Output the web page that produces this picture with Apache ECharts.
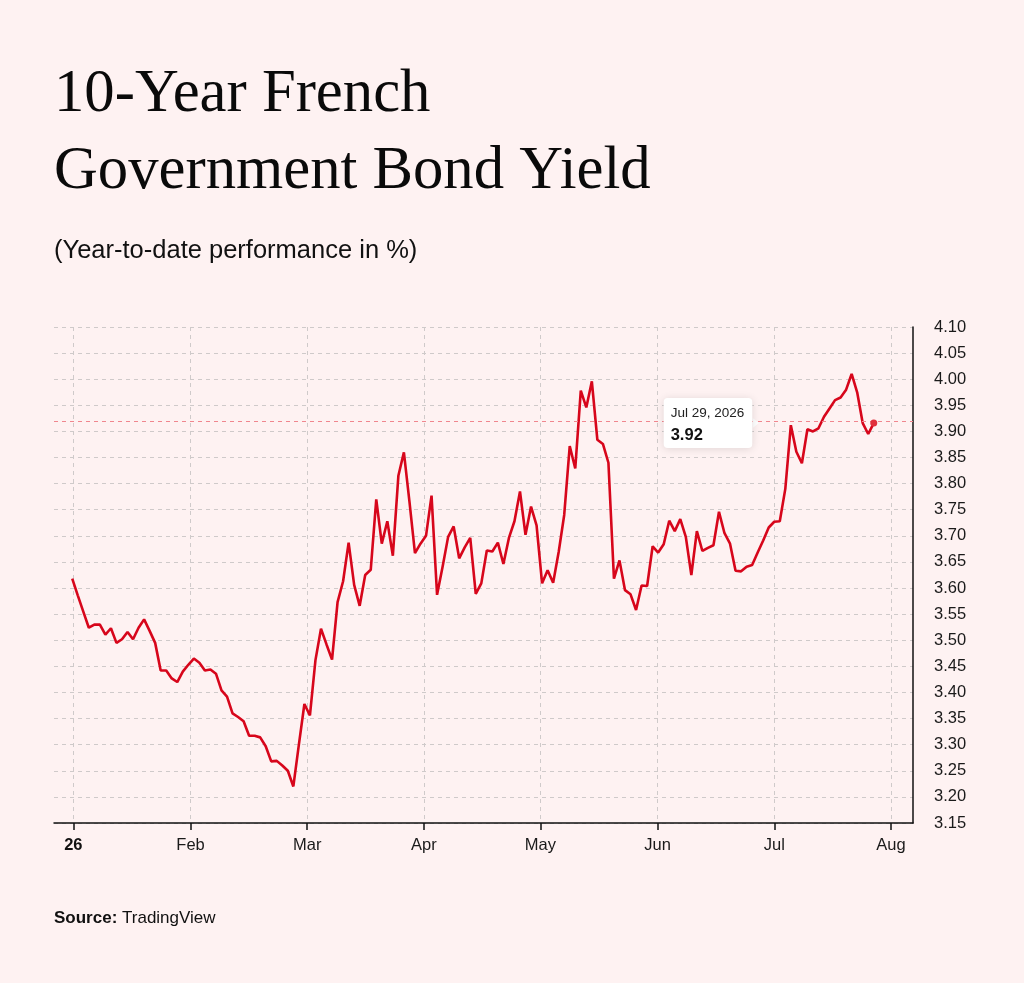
<!DOCTYPE html>
<html>
<head>
<meta charset="utf-8">
<title>10-Year French Government Bond Yield</title>
<style>
  html, body { margin: 0; padding: 0; background: #fef2f2; }
  #chart { width: 1024px; height: 983px; }
</style>
<script src="https://cdn.jsdelivr.net/npm/echarts@6/dist/echarts.min.js"></script>
</head>
<body>
<div id="chart"></div>
<script>
// daily closes (trading days), Jan 2 -> Jul 29 2026
var yields = [
  3.618, 3.586, 3.555, 3.524, 3.530, 3.530, 3.511, 3.523, 3.495, 3.502,
  3.516, 3.502, 3.524, 3.540, 3.518, 3.495, 3.442, 3.442, 3.427, 3.420,
  3.440, 3.453, 3.465, 3.457, 3.442, 3.444, 3.436, 3.404, 3.392, 3.360,
  3.353, 3.345, 3.317, 3.317, 3.314, 3.297, 3.268, 3.269, 3.260, 3.250,
  3.220, 3.300, 3.378, 3.356, 3.462, 3.522, 3.492, 3.463, 3.573, 3.613,
  3.687, 3.606, 3.566, 3.625, 3.635, 3.770, 3.685, 3.728, 3.662, 3.815,
  3.860, 3.766, 3.667, 3.685, 3.700, 3.777, 3.587, 3.641, 3.698, 3.718,
  3.657, 3.678, 3.696, 3.589, 3.609, 3.672, 3.670, 3.687, 3.646, 3.696,
  3.728, 3.785, 3.702, 3.756, 3.720, 3.609, 3.634, 3.610, 3.669, 3.740,
  3.872, 3.829, 3.978, 3.946, 3.996, 3.884, 3.876, 3.840, 3.618, 3.653,
  3.596, 3.588, 3.558, 3.605, 3.604, 3.680, 3.668, 3.684, 3.729, 3.709,
  3.732, 3.698, 3.625, 3.709, 3.671, 3.677, 3.682, 3.746, 3.705, 3.685,
  3.633, 3.632, 3.641, 3.644, 3.668, 3.691, 3.716, 3.727, 3.728, 3.790,
  3.912, 3.861, 3.839, 3.904, 3.900, 3.906, 3.928, 3.944, 3.960, 3.965,
  3.980, 4.010, 3.975, 3.916, 3.895, 3.916
];

// month labels and where they sit on the trading-day index
var monthNames = ['26', 'Feb', 'Mar', 'Apr', 'May', 'Jun', 'Jul', 'Aug'];
var monthTicks = [0.2, 21.4, 42.5, 63.6, 84.7, 105.9, 127, 148.1];

var yMin = 3.15, yMax = 4.10, yStep = 0.05;
var lastDate = 'Jul 29, 2026';

var sans = 'Liberation Sans, Arial, Helvetica, sans-serif';
var red = '#d7061b';

var points = yields.map(function (v, i) { return [i, v]; });
var lastIdx = yields.length - 1;
var lastVal = yields[lastIdx];

var chart = echarts.init(document.getElementById('chart'));

var option = {
  backgroundColor: '#fef2f2',
  animation: false,
  title: [
    {
      text: '10-Year French\nGovernment Bond Yield',
      left: 54, top: 57, padding: 0,
      textStyle: { fontFamily: 'Liberation Serif, Times New Roman, serif', fontSize: 60.7,
        fontWeight: 'normal', lineHeight: 77, color: '#0a0a0a' }
    },
    {
      text: '(Year-to-date performance in %)',
      left: 54, top: 236, padding: 0,
      textStyle: { fontFamily: sans, fontSize: 25.5, fontWeight: 'normal', lineHeight: 29, color: '#111' }
    },
    {
      text: '{b|Source:} TradingView',
      left: 54, top: 910, padding: 0,
      textStyle: { fontFamily: sans, fontSize: 17, fontWeight: 'normal', color: '#111',
        rich: { b: { fontFamily: sans, fontSize: 17, fontWeight: 'bold', color: '#111' } } }
    }
  ],
  grid: { left: 54, right: 111, top: 327, bottom: 160 },
  xAxis: {
    type: 'value',
    min: -3.3,
    max: 152.1,
    axisLine: { onZero: false, lineStyle: { color: '#111', width: 1.5 } },
    axisTick: { show: true, length: 7, customValues: monthTicks, lineStyle: { color: '#111', width: 1.5 } },
    axisLabel: {
      customValues: monthTicks,
      margin: 14,
      fontFamily: sans, fontSize: 16.5, color: '#1a1a1a',
      formatter: function (v) {
        var k = monthTicks.indexOf(v);
        var name = monthNames[k] || '';
        return k === 0 ? '{b|' + name + '}' : name;
      },
      rich: { b: { fontFamily: sans, fontSize: 16.5, fontWeight: 'bold', color: '#111' } }
    },
    splitLine: { show: true, lineStyle: { color: '#cfcaca', type: [4, 4], width: 1 } }
  },
  yAxis: {
    type: 'value',
    position: 'right',
    min: yMin,
    max: yMax,
    interval: yStep,
    axisLine: { show: true, onZero: false, lineStyle: { color: '#111', width: 1.5 } },
    axisTick: { show: false },
    axisLabel: {
      margin: 21,
      fontFamily: sans, fontSize: 16.5, color: '#1a1a1a',
      formatter: function (v) { return v.toFixed(2); }
    },
    splitLine: { show: true, lineStyle: { color: '#cfcaca', type: [4, 4], width: 1 } }
  },
  series: [{
    type: 'line',
    data: points,
    showSymbol: false,
    symbol: 'none',
    lineStyle: { color: red, width: 2.6 },
    itemStyle: { color: red },
    silent: true,
    markLine: {
      silent: true,
      symbol: ['none', 'none'],
      label: { show: false },
      lineStyle: { color: '#f0868e', type: [4, 4], width: 1, opacity: 1 },
      emphasis: { disabled: true },
      data: [{ yAxis: lastVal, lineStyle: { color: '#f0868e', type: [4, 4], width: 1 } }]
    },
    markPoint: {
      silent: true,
      data: [
        {
          coord: [lastIdx, lastVal],
          symbol: 'triangle',
          symbolSize: [10, 6],
          symbolRotate: -90,
          symbolOffset: [-118, 0],
          itemStyle: { color: '#ffffff' },
          label: { show: false }
        },
        {
          coord: [lastIdx, lastVal],
          symbol: 'circle',
          symbolSize: 7,
          itemStyle: { color: '#e0303c' },
          label: {
            show: true,
            position: 'left',
            distance: 118,
            formatter: '{d|' + lastDate + '}\n{v|' + lastVal.toFixed(2) + '}',
            backgroundColor: '#ffffff',
            borderRadius: 4,
            padding: [4, 8, 2, 7],
            shadowBlur: 8,
            shadowColor: 'rgba(0,0,0,0.12)',
            shadowOffsetY: 1,
            rich: {
              d: { fontFamily: sans, fontSize: 13.5, color: '#222', lineHeight: 22, align: 'left' },
              v: { fontFamily: sans, fontSize: 16.5, fontWeight: 'bold', color: '#111', lineHeight: 22, align: 'left' }
            }
          }
        }
      ]
    }
  }]
};

chart.setOption(option);
</script>
</body>
</html>
